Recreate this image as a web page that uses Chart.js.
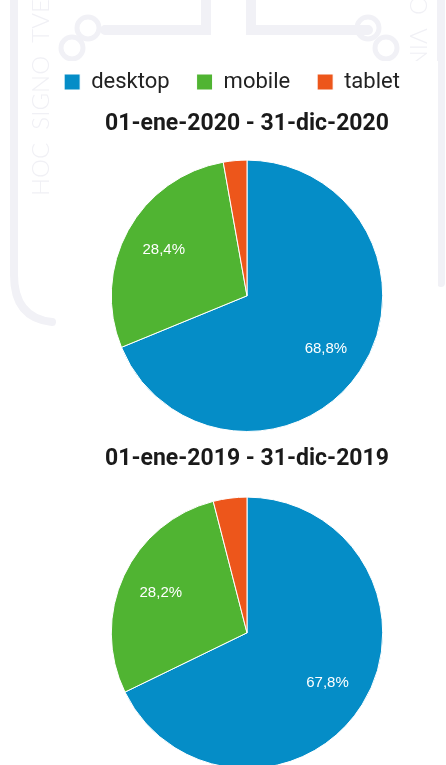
<!DOCTYPE html>
<html>
<head>
<meta charset="utf-8">
<script src="https://cdn.jsdelivr.net/npm/chart.js@4.4.1/dist/chart.umd.min.js"></script>
<style>
  html, body { margin: 0; padding: 0; background: #fff; overflow: hidden; }
  #wrap { position: relative; width: 446px; height: 765px; overflow: hidden; }
  #bg, #pie2020, #pie2019 { position: absolute; left: 0; }
  #bg { top: 0; }
  #pie2020 { top: 0; }
  #pie2019 { top: 440px; }
</style>
</head>
<body>
<div id="wrap">
  <canvas id="bg" width="446" height="765"></canvas>
  <canvas id="pie2020" width="446" height="440"></canvas>
  <canvas id="pie2019" width="446" height="335"></canvas>
</div>
<script>
// device categories and their share of sessions (%)
const categories = ["desktop", "mobile", "tablet"];
const periods = ["01-ene-2020 - 31-dic-2020", "01-ene-2019 - 31-dic-2019"];
const share2020 = [68.8, 28.4, 2.8];
const share2019 = [67.8, 28.2, 4.0];
const sliceColors = ["#058dc7", "#50b432", "#ed561b"];

// faint seal watermark behind the charts
function drawWatermark() {
    const ctx = document.getElementById("bg").getContext("2d");
    ctx.strokeStyle = "#f1f1f6";
    ctx.fillStyle = "#f0f0f5";
    ctx.lineWidth = 8;
    ctx.lineCap = "round";

    // outer bands of the shield
    ctx.beginPath();
    ctx.moveTo(14, -5);
    ctx.lineTo(14, 275);
    ctx.quadraticCurveTo(14, 318, 52, 322);
    ctx.stroke();
    ctx.beginPath();
    ctx.moveTo(441, -5);
    ctx.lineTo(441, 283);
    ctx.stroke();

    // top brackets
    ctx.lineWidth = 10;
    ctx.beginPath();
    ctx.moveTo(206, -5);
    ctx.lineTo(206, 30);
    ctx.lineTo(105, 30);
    ctx.moveTo(251, -5);
    ctx.lineTo(251, 30);
    ctx.lineTo(368, 30);
    ctx.stroke();
    ctx.lineWidth = 5;
    [[88, 28], [72, 48], [368, 28], [386, 48]].forEach(c => {
        ctx.beginPath();
        ctx.arc(c[0], c[1], 11, 0, Math.PI * 2);
        ctx.stroke();
    });

    // motto text
    ctx.font = "300 24px Lato, 'Open Sans', sans-serif";
    ctx.textBaseline = "middle";
    ctx.save();
    ctx.translate(41, 196);
    ctx.rotate(-Math.PI / 2);
    ctx.fillText("HOC  SIGNO  TVEBITVR", 0, 0);
    ctx.restore();
    ctx.save();
    ctx.translate(418, -22);
    ctx.rotate(Math.PI / 2);
    ctx.fillText("NO  VIN", 0, 0);
    ctx.restore();

    // white panel that holds the charts
    ctx.fillStyle = "#fff";
    ctx.fillRect(58, 61, 380, 704);
}
drawWatermark();

// percentage labels inside the larger slices
const sliceLabels = {
    id: "sliceLabels",
    afterDatasetsDraw(chart) {
        const ctx = chart.ctx;
        const values = chart.data.datasets[0].data;
        chart.getDatasetMeta(0).data.forEach((arc, i) => {
            if (values[i] < 5) return;
            const p = arc.getProps(["x", "y", "startAngle", "endAngle", "outerRadius"], true);
            const mid = (p.startAngle + p.endAngle) / 2;
            const r = p.outerRadius * 0.7;
            ctx.save();
            ctx.font = "15px 'Liberation Sans', Arial, sans-serif";
            ctx.fillStyle = "#fff";
            ctx.textAlign = "center";
            ctx.textBaseline = "middle";
            ctx.fillText(values[i].toFixed(1).replace(".", ",") + "%", p.x + Math.cos(mid) * r, p.y + Math.sin(mid) * r);
            ctx.restore();
        });
    }
};

// the legend sits a bit left of the pie column
const legendNudge = {
    id: "legendNudge",
    afterLayout(chart) {
        chart.legend.left -= 15;
        chart.legend.right -= 15;
    }
};

function makePie(id, values, title, withLegend, pad, titlePad) {
    return new Chart(document.getElementById(id), {
        type: "pie",
        data: {
            labels: categories,
            datasets: [{
                data: values,
                backgroundColor: sliceColors,
                borderColor: "#fff",
                borderWidth: 1
            }]
        },
        options: {
            responsive: false,
            animation: false,
            layout: { padding: pad },
            plugins: {
                legend: {
                    display: withLegend,
                    position: "top",
                    weight: 3000,
                    labels: {
                        boxWidth: 16,
                        boxHeight: 16,
                        padding: 27,
                        color: "#222",
                        font: { family: "Roboto", size: 22 }
                    }
                },
                title: {
                    display: true,
                    text: title,
                    color: "#1a1a1a",
                    font: { family: "Roboto", size: 23, weight: "bold" },
                    padding: titlePad
                },
                tooltip: { enabled: false }
            }
        },
        plugins: withLegend ? [sliceLabels, legendNudge] : [sliceLabels]
    });
}

makePie("pie2020", share2020, periods[0], true,
    { left: 48, top: 44, bottom: 8 }, { top: 7, bottom: 22 });
makePie("pie2019", share2019, periods[1], false,
    { left: 48, top: 0, bottom: 6 }, { top: 5, bottom: 24 });
</script>
</body>
</html>
